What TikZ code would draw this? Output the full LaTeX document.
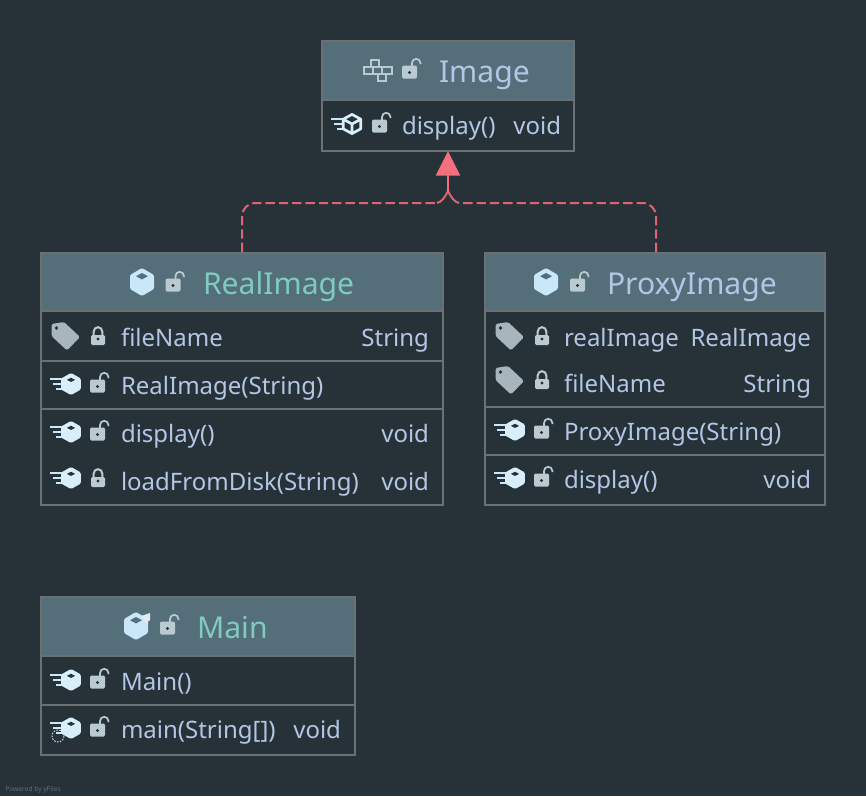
\documentclass[tikz,border=0pt]{standalone}
\usepackage{fontspec}
\setmainfont{Noto Sans}
\usetikzlibrary{arrows.meta}
\definecolor{bgc}{HTML}{263238}
\definecolor{headc}{HTML}{546E7A}
\definecolor{borderc}{HTML}{6B7072}
\definecolor{txtc}{HTML}{B4C6E6}
\definecolor{tealc}{HTML}{7FCBC0}
\definecolor{cubec}{HTML}{C8E8FA}
\definecolor{lockc}{HTML}{BACAD1}
\definecolor{edgec}{HTML}{DE6474}
\definecolor{tipc}{HTML}{F56F7C}
\tikzset{
  x=0.75pt,y=-0.75pt,
  umlbox/.style={draw=borderc,line width=1.5pt,fill=bgc,inner sep=0pt,outer sep=0pt,anchor=north west},
  divline/.style={draw=borderc,line width=1.5pt},
  member/.style={anchor=base west,inner sep=0pt,outer sep=0pt,text=txtc,font=\fontsize{18pt}{20pt}\selectfont},
  typeR/.style={anchor=base east,inner sep=0pt,outer sep=0pt,text=txtc,font=\fontsize{18pt}{20pt}\selectfont},
  title/.style={anchor=base west,inner sep=0pt,outer sep=0pt,text=txtc,font=\fontsize{22.6pt}{24pt}\selectfont},
  ttitle/.style={title,text=tealc},
  realize/.style={draw=edgec,line width=1.5pt,dash pattern=on 7pt off 3pt},
  peak/.style={draw=edgec,line width=1.5pt},
  tipline/.style={draw=edgec,line width=1.5pt,-{Triangle[length=18.5pt,width=18pt,fill=tipc]},tipc}
}
% icons, given by their centre
\newcommand{\lockopen}[2]{\begin{scope}[shift={(#1,#2)}]
  \draw[lockc,line width=1.3pt] (3,-4) -- (3,-8) arc[start angle=180,end angle=360,radius=4.2] -- (11.4,-7);
  \fill[lockc,rounded corners=1pt] (-7,-5.5) rectangle (8,7.5);
  \fill[bgc] (0.5,1.5) circle (1.6);
\end{scope}}
\newcommand{\lockshut}[2]{\begin{scope}[shift={(#1,#2)}]
  \draw[lockc,line width=1.5pt] (-4.3,0) -- (-4.3,-5.5) arc[start angle=180,end angle=360,radius=4.3] -- (4.3,0);
  \fill[lockc,rounded corners=1pt] (-7,-2) rectangle (7,8);
  \fill[bgc] (0,2) circle (1.7);
\end{scope}}
\newcommand{\tagicon}[2]{\begin{scope}[shift={(#1,#2)}]
  \fill[lockc!90!black,rounded corners=1.2pt] (-13.5,-13) -- (-1,-15) -- (15,0) -- (2,13.5) -- (-13.5,-1) -- cycle;
  \fill[bgc] (-8.5,-9) circle (1.9);
\end{scope}}
\newcommand{\cubefill}[3]{\begin{scope}[shift={(#1,#2)},scale=#3]
  \fill[cubec,rounded corners=1pt] (0,-14) -- (12,-7) -- (12,7) -- (0,14) -- (-12,7) -- (-12,-7) -- cycle;
  \fill[headc] (0,-9) -- (6,-5.8) -- (0,-2.6) -- (-6,-5.8) -- cycle;
\end{scope}}
\newcommand{\methodlines}[2]{\begin{scope}[shift={(#1,#2)}]
  \draw[cubec,line width=1.1pt] (-21,-5) -- (-9,-5) (-18,0) -- (-9,0) (-15,5) -- (-9,5);
\end{scope}}
\newcommand{\methodcube}[2]{\methodlines{#1}{#2}\begin{scope}[shift={(#1,#2)},scale=.82]
  \fill[white!30!cubec,rounded corners=1pt] (0,-13.5) -- (12,-6.7) -- (12,6.7) -- (0,13.5) -- (-12,6.7) -- (-12,-6.7) -- cycle;
  \fill[bgc] (0,-7.5) -- (5,-5) -- (0,-2.5) -- (-5,-5) -- cycle;
\end{scope}}
\newcommand{\methodhollow}[2]{\methodlines{#1}{#2}\begin{scope}[shift={(#1,#2)},scale=.8]
  \draw[white!30!cubec,line width=2pt,line join=round] (0,-12) -- (11,-6) -- (11,6) -- (0,12) -- (-11,6) -- (-11,-6) -- cycle (-11,-6) -- (0,0) -- (11,-6) (0,0) -- (0,12);
\end{scope}}
\newcommand{\ifaceicon}[2]{\begin{scope}[shift={(#1,#2)},lockc,line width=1.5pt]
  \draw (-7,-10) rectangle (1,-3);
  \draw (-14,-3) rectangle (-5,4);
  \draw (-5,-3) rectangle (4.5,4);
  \draw (4.5,-3) rectangle (14,4);
  \draw (0,4) rectangle (8,11);
\end{scope}}
\begin{document}
\begin{tikzpicture}
\useasboundingbox[fill=bgc] (0,0) rectangle (866,796);
% boxes
\node[umlbox,minimum width=189pt,minimum height=82.5pt] (image) at (322,41) {};
\node[umlbox,minimum width=301.5pt,minimum height=189pt] (real) at (41,253) {};
\node[umlbox,minimum width=255pt,minimum height=189pt] (proxy) at (485,253) {};
\node[umlbox,minimum width=235.5pt,minimum height=118.5pt] (mainb) at (41,597) {};
% headers
\fill[headc] (322,41) rectangle (574,100);
\fill[headc] (41,253) rectangle (443,311);
\fill[headc] (485,253) rectangle (825,311);
\fill[headc] (41,597) rectangle (355,656);
\draw[borderc,line width=1.5pt] (322,41) rectangle (574,151);
\draw[borderc,line width=1.5pt] (41,253) rectangle (443,505);
\draw[borderc,line width=1.5pt] (485,253) rectangle (825,505);
\draw[borderc,line width=1.5pt] (41,597) rectangle (355,755);
% dividers
\draw[divline] (322,100) -- (574,100);
\draw[divline] (41,311) -- (443,311) (41,361) -- (443,361) (41,409) -- (443,409);
\draw[divline] (485,311) -- (825,311) (485,407) -- (825,407) (485,455) -- (825,455);
\draw[divline] (41,656) -- (355,656) (41,705) -- (355,705);
% Image
\ifaceicon{377.5}{70}\lockopen{409}{71}
\node[title] (t1) at (439,82) {Image};
\methodhollow{352}{124}\lockopen{379}{125}
\node[member] (m1) at (402,134) {display()};
\node[typeR] (m1t) at (561,134) {void};
% RealImage
\cubefill{142}{282}{1}\lockopen{172.5}{284}
\node[ttitle] (t2) at (203,294.5) {RealImage};
\tagicon{65}{337}\lockshut{98}{337}
\node[member] (f1) at (121,346) {fileName};
\node[typeR] (f1t) at (429,346) {String};
\methodcube{71}{384}\lockopen{97}{385}
\node[member] (c1) at (121,394) {RealImage(String)};
\methodcube{71}{432}\lockopen{97}{433}
\node[member] (d1) at (121,442) {display()};
\node[typeR] (d1t) at (429,442) {void};
\methodcube{71}{478}\lockshut{98}{479}
\node[member] (l1) at (121,490) {loadFromDisk(String)};
\node[typeR] (l1t) at (429,490) {void};
% ProxyImage
\cubefill{546}{282}{1}\lockopen{577}{284}
\node[title] (t3) at (607,294.5) {ProxyImage};
\tagicon{509}{337}\lockshut{542}{337}
\node[member] (f2) at (564,346) {realImage};
\node[typeR] (f2t) at (811,346) {RealImage};
\tagicon{509}{381}\lockshut{542}{381}
\node[member] (f3) at (564,392) {fileName};
\node[typeR] (f3t) at (811,392) {String};
\methodcube{515}{430}\lockopen{541}{431}
\node[member] (c2) at (564,440) {ProxyImage(String)};
\methodcube{515}{478}\lockopen{541}{479}
\node[member] (d2) at (564,488) {display()};
\node[typeR] (d2t) at (811,488) {void};
% Main
\cubefill{136}{626}{1}
\fill[lockc!40!white] (141,616) -- (150,613) -- (150,620) -- (146,623) -- cycle;
\lockopen{167}{627}
\node[ttitle] (t4) at (197,638.5) {Main};
\methodcube{71}{680}\lockopen{97}{681}
\node[member] (c3) at (121,690) {Main()};
\methodcube{71}{728}\lockopen{97}{729}
\draw[cubec,line width=.7pt,dash pattern=on 1.2pt off 1pt] (58,736) circle (6);
\node[member] (m2) at (121,738) {main(String[])};
\node[typeR] (m2t) at (341,738) {void};
% yFiles note
\node[anchor=base west,inner sep=0pt,text=lockc!40!bgc,font=\fontsize{5pt}{6pt}\selectfont] (yf) at (5,791) {Powered by yFiles};
% connectors
\coordinate (rs) at (242,252);
\coordinate (ps) at (656,252);
\coordinate (jn) at (448,191);
\coordinate (lk) at (437,203);
\coordinate (rk) at (459,203);
\draw[realize,rounded corners=10pt] (rs) -- (242,203) -- (lk);
\draw[peak] (lk) .. controls (442,202) and (445,197) .. (jn);
\draw[realize,rounded corners=10pt] (ps) -- (656,203) -- (rk);
\draw[peak] (rk) .. controls (454,202) and (451,197) .. (jn);
\draw[tipline] (jn) -- (image.south);
\end{tikzpicture}
\end{document}
